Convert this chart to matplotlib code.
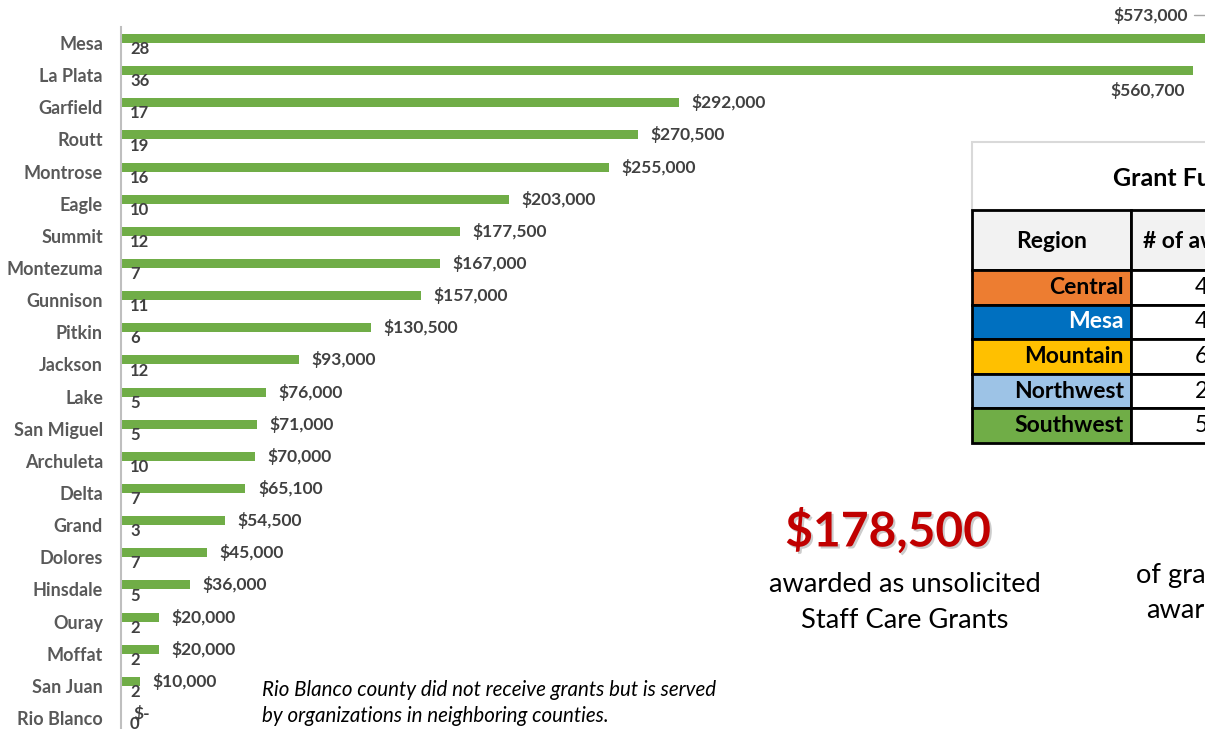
import matplotlib.pyplot as plt
import matplotlib.patheffects as pe
from matplotlib.patches import Rectangle

plt.rcParams['font.family'] = ['Lato', 'DejaVu Sans']

## data
#==================================================================
counties = ['Mesa', 'La Plata', 'Garfield', 'Routt', 'Montrose', 'Eagle', 'Summit',
            'Montezuma', 'Gunnison', 'Pitkin', 'Jackson', 'Lake', 'San Miguel',
            'Archuleta', 'Delta', 'Grand', 'Dolores', 'Hinsdale', 'Ouray', 'Moffat',
            'San Juan', 'Rio Blanco']
amounts = [573000, 560700, 292000, 270500, 255000, 203000, 177500, 167000, 157000,
           130500, 93000, 76000, 71000, 70000, 65100, 54500, 45000, 36000, 20000,
           20000, 10000, 0]
counts = [28, 36, 17, 19, 16, 10, 12, 7, 11, 6, 12, 5, 5, 10, 7, 3, 7, 5, 2, 2, 2, 0]

regions = ['Central', 'Mesa', 'Mountain', 'Northwest', 'Southwest']
region_colors = ['#ED7D31', '#0070C0', '#FFC000', '#9DC3E6', '#70AD47']
region_textcol = ['black', 'white', 'black', 'black', 'black']
region_counts = ['4', '4', '6', '2', '5']

staff_care = '$178,500'


def money(v):
    return '$-' if v == 0 else '${:,}'.format(v)


W, H = 1205, 729
fig = plt.figure(figsize=(W / 100, H / 100), dpi=100)

## bar chart
#==================================================================
ax = fig.add_axes([121 / W, 0, 1 - 121 / W, 1 - 27 / H])
pos = list(range(len(counties)))
ax.barh([p - 0.14 for p in pos], amounts, height=0.28, color='#70AD47')
ax.set_xlim(0, 566950)
ax.set_ylim(21.34, -0.498)
for s in ['top', 'right', 'bottom']:
    ax.spines[s].set_visible(False)
ax.spines['left'].set_color('#BFBFBF')
ax.spines['left'].set_linewidth(1.5)
ax.set_xticks([])
ax.set_yticks(pos)
ax.set_yticklabels(counties, fontsize=13, fontweight='bold', color='#595959')
ax.tick_params(axis='y', length=0, pad=13)

for p, a, c in zip(pos, amounts, counts):
    # count under the bar
    ax.annotate(str(c), xy=(0, p + 0.19), xytext=(6.5, 0), textcoords='offset points',
                ha='left', va='center', fontsize=12, fontweight='bold', color='#404040')
    if p == 0:
        # label sits above with a leader line (bar runs off the edge)
        ax.annotate(money(a), xy=(a, p - 0.28), xytext=(1188, H - 15),
                    textcoords='figure pixels', ha='right', va='center',
                    fontsize=12.5, fontweight='bold', color='#404040',
                    annotation_clip=False,
                    arrowprops=dict(arrowstyle='-', color='#A6A6A6', lw=1,
                                    shrinkA=2, shrinkB=0,
                                    connectionstyle='angle,angleA=0,angleB=45,rad=0'))
    elif p == 1:
        ax.annotate(money(a), xy=(a, p - 0.14), xytext=(-6, -14), textcoords='offset points',
                    ha='right', va='center', fontsize=12.5, fontweight='bold', color='#404040')
    else:
        ax.annotate(money(a), xy=(a, p - 0.14), xytext=(9, 0), textcoords='offset points',
                    ha='left', va='center', fontsize=12.5, fontweight='bold', color='#404040')

## overlay in pixel coords
#==================================================================
ov = fig.add_axes([0, 0, 1, 1], zorder=5)
ov.set_xlim(0, W)
ov.set_ylim(H, 0)
ov.axis('off')

ov.text(262, 690, 'Rio Blanco county did not receive grants but is served',
        style='italic', fontsize=14.8, ha='left', va='center')
ov.text(262, 716, 'by organizations in neighboring counties.',
        style='italic', fontsize=14.8, ha='left', va='center')

# table
ov.add_patch(Rectangle((972, 142), 300, 68, fc='white', ec='#D9D9D9', lw=1.5))
ov.text(1113, 178, 'Grant Funding by Region', fontsize=18, fontweight='bold',
        ha='left', va='center')
ov.add_patch(Rectangle((972, 210), 159, 60, fc='#F2F2F2', ec='black', lw=2))
ov.add_patch(Rectangle((1131, 210), 200, 60, fc='#F2F2F2', ec='black', lw=2))
ov.text(1052, 241, 'Region', fontsize=16.5, fontweight='bold', ha='center', va='center')
ov.text(1143, 241, '# of awards', fontsize=16.5, fontweight='bold', ha='left', va='center')
rh = 34.6
for k, (r, col, tc, n) in enumerate(zip(regions, region_colors, region_textcol, region_counts)):
    top = 270 + k * rh
    ov.add_patch(Rectangle((972, top), 159, rh, fc=col, ec='black', lw=2))
    ov.add_patch(Rectangle((1131, top), 200, rh, fc='white', ec='black', lw=2))
    ov.text(1124, top + rh / 2, r, fontsize=16.5, fontweight='bold', color=tc,
            ha='right', va='center')
    ov.text(1195, top + rh / 2, n, fontsize=16.5, ha='left', va='center')

# callouts
ov.text(888, 531, staff_care, fontsize=34.5, fontweight='bold', color='#C00000',
        ha='center', va='center',
        path_effects=[pe.withSimplePatchShadow(offset=(1.5, -1.5), shadow_rgbFace='#808080', alpha=0.4)])
ov.text(905, 585, 'awarded as unsolicited', fontsize=19.6, ha='center', va='center')
ov.text(905, 620, 'Staff Care Grants', fontsize=19.6, ha='center', va='center')
ov.text(1136, 575, 'of grants', fontsize=19.6, ha='left', va='center')
ov.text(1146, 610, 'awarded', fontsize=19.6, ha='left', va='center')

fig.savefig('out.png', dpi=100)
